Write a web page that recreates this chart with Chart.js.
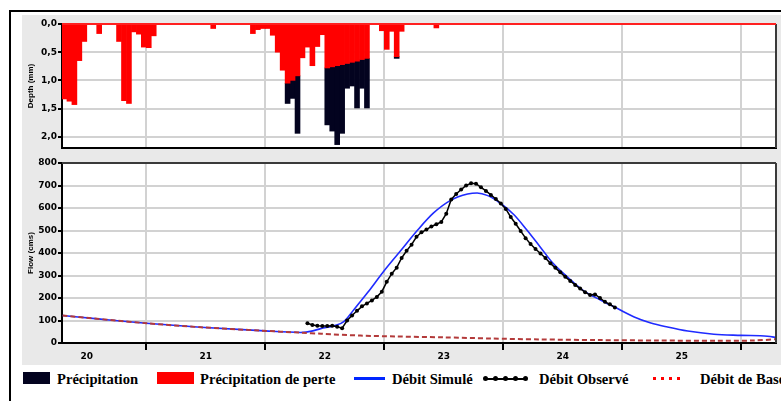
<!DOCTYPE html>
<html>
<head>
<meta charset="utf-8">
<script src="https://cdn.jsdelivr.net/npm/chart.js@4.4.0/dist/chart.umd.min.js"></script>
<style>
body { margin:0; background:#fff; width:781px; height:401px; overflow:hidden; position:relative; }
#frame { position:absolute; left:9px; top:10px; width:800px; height:420px; border-left:2px solid #000; border-top:2px solid #000; }
#panel { position:absolute; left:22px; top:15px; width:759px; height:350px; background:#e9e9e9; }
canvas { position:absolute; left:22px; }
#depth { top:15px; }
#flow { top:151px; }
.lg { position:absolute; top:371px; line-height:15px; font:bold 14.6px 'Liberation Serif', serif; color:#000; white-space:nowrap; }
.sw { position:absolute; }
.dot { position:absolute; border-radius:50%; }
</style>
</head>
<body>
<div id="frame"></div>
<div id="panel"></div>
<canvas id="depth" width="759" height="136"></canvas>
<canvas id="flow" width="759" height="214"></canvas>

<div class="sw" style="left:23px;top:372px;width:27px;height:12px;background:#03031f"></div>
<div class="lg" style="left:57px">Précipitation</div>
<div class="sw" style="left:157px;top:372px;width:37px;height:12px;background:#ff0000"></div>
<div class="lg" style="left:200px">Précipitation de perte</div>
<div class="sw" style="left:354px;top:377px;width:31px;height:3px;background:#0026ff"></div>
<div class="lg" style="left:392px">Débit Simulé</div>
<div class="sw" style="left:485px;top:378px;width:42px;height:2px;background:#000"></div>
<div class="dot" style="left:483px;top:376px;width:5px;height:5px;background:#000"></div>
<div class="dot" style="left:493px;top:376px;width:5px;height:5px;background:#000"></div>
<div class="dot" style="left:503px;top:376px;width:5px;height:5px;background:#000"></div>
<div class="dot" style="left:513px;top:376px;width:5px;height:5px;background:#000"></div>
<div class="dot" style="left:523px;top:376px;width:5px;height:5px;background:#000"></div>
<div class="lg" style="left:539px">Débit Observé</div>
<div class="sw" style="left:653px;top:377px;width:3px;height:3px;background:#ff0000"></div>
<div class="sw" style="left:661px;top:377px;width:3px;height:3px;background:#ff0000"></div>
<div class="sw" style="left:669px;top:377px;width:3px;height:3px;background:#ff0000"></div>
<div class="sw" style="left:677px;top:377px;width:3px;height:3px;background:#ff0000"></div>
<div class="lg" style="left:700px">Débit de Base</div>

<script>
// hours are counted from day 20 at 00:00
const lossHours = [7, 8, 9, 10, 11, 14, 18, 19, 20, 21, 22, 23, 24, 25, 37,
    45, 46, 47, 48, 49, 50, 51, 52, 53, 54, 55, 56, 57, 58, 59, 60, 61, 62, 63, 64, 65, 66, 67, 68,
    71, 72, 73, 74, 75, 82];
const lossMm = [1.33, 1.37, 1.43, 0.65, 0.31, 0.17, 0.31, 1.36, 1.41, 0.14, 0.18, 0.41, 0.42, 0.21, 0.08,
    0.17, 0.10, 0.08, 0.08, 0.20, 0.50, 0.82, 1.05, 1.00, 0.92, 0.60, 0.41, 0.74, 0.40, 0.19, 0.78, 0.76, 0.74, 0.72, 0.70, 0.68, 0.66, 0.63, 0.61,
    0.12, 0.45, 0.13, 0.58, 0.13, 0.07];
const rainHours = [52, 53, 54, 60, 61, 62, 63, 64, 65, 66, 67, 68, 74];
const rainMm = [0.36, 0.32, 1.02, 1.01, 1.14, 1.40, 1.22, 0.44, 0.42, 0.83, 0.51, 0.88, 0.03];

const dayLabels = [20, 21, 22, 23, 24, 25];

// simulated flow (day, cms)
const simDays = [20.297, 20.616, 21.0, 21.456, 21.96, 22.297, 22.40, 22.465, 22.575, 22.66, 22.744, 22.86, 22.994,
    23.137, 23.277, 23.414, 23.557, 23.70, 23.78, 23.87, 23.978, 24.09, 24.20, 24.31, 24.42, 24.54, 24.67,
    24.82, 24.96, 25.10, 25.24, 25.38, 25.55, 25.77, 26.0, 26.22, 26.30];
const simFlow = [122, 106, 88, 70, 55, 47, 54, 64, 76, 95, 148, 224, 318,
    410, 500, 578, 634, 662, 667, 655, 620, 570, 501, 427, 353, 293, 234,
    190, 153, 116, 89, 71, 53, 39, 34, 30, 24];

// observed flow, one reading per hour from hour 56.5
const obsFirstHour = 56.5;
const obsFlow = [88, 80, 77, 76, 76, 77, 72, 66, 100, 122, 143, 163, 176, 189, 205, 228,
    272, 308, 335, 378, 410, 437, 472, 492, 504, 518, 528, 538, 575, 638, 662, 682,
    700, 710, 708, 692, 676, 658, 640, 620, 596, 560, 530, 498, 466, 440, 418, 398,
    378, 354, 334, 314, 294, 276, 258, 242, 226, 213, 216, 200, 183, 172, 158];

// base flow (day, cms)
const baseDays = [20.297, 21.0, 21.46, 21.96, 22.30, 22.47, 22.8, 23.1, 23.5, 23.9, 24.3, 24.8, 25.3, 25.8, 26.1, 26.3];
const baseFlow = [122, 88, 70, 55, 46, 41, 33, 29, 25, 20, 16, 13, 11, 10, 11, 17];

const xMin = 20 + 7 / 24;
const xMax = xMin + 6;
const gridColor = '#d2d2d2';
const tickFont = { family: 'DejaVu Sans', weight: 'bold', size: 9 };
const titleFont = { family: 'Liberation Sans', weight: 'bold', size: 8 };

const hourToDay = h => 20 + h / 24;

// white plot background + right/top edges
const framePlugin = {
    id: 'frame',
    beforeDraw(chart) {
        const a = chart.chartArea, ctx = chart.ctx;
        ctx.save();
        ctx.fillStyle = '#fff';
        ctx.fillRect(a.left, a.top, a.right - a.left, a.bottom - a.top);
        ctx.restore();
    },
    afterDatasetsDraw(chart, args, opts) {
        const a = chart.chartArea, ctx = chart.ctx;
        ctx.save();
        ctx.lineWidth = 2;
        ctx.strokeStyle = '#3a3a3a';
        ctx.beginPath(); ctx.moveTo(a.right, a.top); ctx.lineTo(a.right, a.bottom); ctx.stroke();
        ctx.strokeStyle = opts.top || '#3a3a3a';
        ctx.beginPath(); ctx.moveTo(a.left, a.top); ctx.lineTo(a.right, a.top); ctx.stroke();
        ctx.restore();
    }
};

function dayAxis(showLabels) {
    return {
        type: 'linear', min: xMin, max: xMax, offset: false, stacked: true,
        afterBuildTicks: s => { s.ticks = dayLabels.map(d => ({ value: d + 0.5 })); },
        afterFit: s => { s.height = showLabels ? 22 : 0; },
        grid: { offset: true, color: gridColor, lineWidth: 2, tickColor: '#000', tickWidth: 2,
            drawTicks: showLabels, tickLength: showLabels ? 7 : 0 },
        border: { color: '#000', width: 2 },
        ticks: { display: showLabels, autoSkip: false, maxRotation: 0, padding: 1, color: '#000',
            font: tickFont, callback: v => String(Math.floor(v)) }
    };
}

function valueAxis(title, extra) {
    return Object.assign({
        // fixed width, no extra room for half labels
        afterFit: s => { s.width = 40; s.paddingTop = 0; s.paddingBottom = 0; },
        grid: { color: gridColor, lineWidth: 2, tickColor: '#000', tickWidth: 2, tickLength: 4 },
        border: { color: '#000', width: 2 },
        title: { display: true, text: title, color: '#000', font: titleFont, padding: { top: 4, bottom: 0 } }
    }, extra);
}

new Chart(document.getElementById('depth'), {
    type: 'bar',
    data: {
        datasets: [
            {
                label: 'Précipitation de perte', stack: 'p',
                data: lossHours.map((h, i) => ({ x: hourToDay(h + 0.5), y: lossMm[i] })),
                backgroundColor: '#ff0000', borderWidth: 0, barPercentage: 1, categoryPercentage: 1
            },
            {
                label: 'Précipitation', stack: 'p',
                data: rainHours.map((h, i) => ({ x: hourToDay(h + 0.5), y: rainMm[i] })),
                backgroundColor: '#03031f', borderWidth: 0, barPercentage: 1, categoryPercentage: 1
            }
        ]
    },
    options: {
        responsive: false, animation: false,
        layout: { padding: { top: 9, right: 5, bottom: 3, left: 0 } },
        plugins: { legend: { display: false }, tooltip: { enabled: false }, frame: { top: '#ff2020' } },
        scales: {
            x: dayAxis(false),
            y: valueAxis('Depth (mm)', {
                reverse: true, min: 0, max: 2.2, stacked: true,
                ticks: { stepSize: 0.5, includeBounds: false, padding: 1, color: '#000', font: tickFont,
                    callback: v => v.toFixed(1).replace('.', ',') }
            })
        }
    },
    plugins: [framePlugin]
});

new Chart(document.getElementById('flow'), {
    type: 'line',
    data: {
        datasets: [
            {
                label: 'Débit de Base',
                data: baseDays.map((d, i) => ({ x: d, y: baseFlow[i] })),
                borderColor: '#b33a3a', borderWidth: 2, borderDash: [5, 3], pointRadius: 0, tension: 0.3
            },
            {
                label: 'Débit Observé',
                data: obsFlow.map((v, i) => ({ x: hourToDay(obsFirstHour + i), y: v })),
                borderColor: '#000', borderWidth: 1.5, pointRadius: 2, pointBackgroundColor: '#000',
                pointBorderWidth: 0, tension: 0
            },
            {
                label: 'Débit Simulé',
                data: simDays.map((d, i) => ({ x: d, y: simFlow[i] })),
                borderColor: '#1f2bff', borderWidth: 1.6, pointRadius: 0, cubicInterpolationMode: 'monotone'
            }
        ]
    },
    options: {
        responsive: false, animation: false,
        layout: { padding: { top: 12, right: 5, bottom: 0, left: 0 } },
        plugins: { legend: { display: false }, tooltip: { enabled: false }, frame: {} },
        scales: {
            x: dayAxis(true),
            y: valueAxis('Flow (cms)', {
                min: 0, max: 800,
                ticks: { stepSize: 100, padding: 1, color: '#000', font: tickFont }
            })
        }
    },
    plugins: [framePlugin]
});
</script>
</body>
</html>
